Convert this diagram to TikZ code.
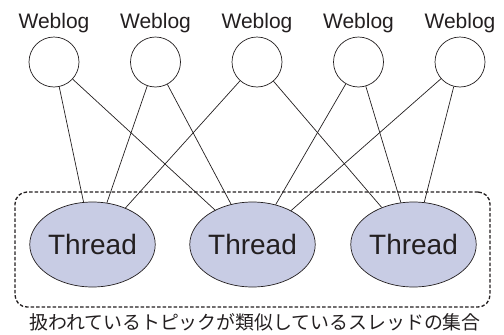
\documentclass[tikz,border=0pt]{standalone}
\usepackage{fontspec}
\setmainfont{Liberation Sans}
\newfontfamily\jpfont{Noto Sans CJK JP}
\usetikzlibrary{shapes.geometric,positioning}
\definecolor{threadfill}{RGB}{200,204,228}
\definecolor{ink}{RGB}{35,31,32}

\begin{document}
\begin{tikzpicture}[x=1pt, y=-1pt, every node/.style={align=center, text=ink},
  blog/.style={draw=ink, circle, line width=0.7pt, minimum size=50pt, inner sep=0pt},
  bloglabel/.style={font=\fontsize{21}{23}\selectfont, anchor=base, inner sep=0pt},
  thread/.style={draw=ink, ellipse, fill=threadfill, line width=0.7pt, minimum width=125pt, minimum height=85pt, inner sep=0pt, font=\fontsize{28}{30}\selectfont},
  groupbox/.style={draw=ink, line width=1.3pt, dash pattern=on 3.5pt off 2pt, rounded corners=12pt, minimum width=475pt, minimum height=115pt, inner sep=0pt},
  link/.style={draw=ink, line width=0.7pt}]
  \useasboundingbox (0,0) rectangle (504,335);

  % weblogs
  \node[blog] (w1) at (54,62) {};
  \node[blog] (w2) at (155.5,62) {};
  \node[blog] (w3) at (257,62) {};
  \node[blog] (w4) at (358.5,62) {};
  \node[blog] (w5) at (460,62) {};
  \node[bloglabel] (l1) at (54,28.5) {Weblog};
  \node[bloglabel] (l2) at (155.5,28.5) {Weblog};
  \node[bloglabel] (l3) at (257,28.5) {Weblog};
  \node[bloglabel] (l4) at (358.5,28.5) {Weblog};
  \node[bloglabel] (l5) at (460,28.5) {Weblog};

  % group of threads
  \node[groupbox] (grp) at (252.5,249.5) {};
  \node[thread] (t1) at (92.5,244.5) {Thread};
  \node[thread] (t2) at (252.5,244.5) {Thread};
  \node[thread] (t3) at (413.5,244.5) {Thread};
  \node[font=\jpfont\fontsize{18.9}{21}\selectfont, inner sep=0pt] (cap) at (255,322) {扱われているトピックが類似しているスレッドの集合};

  \draw[link] (w1) -- (t1);
  \draw[link] (w1) -- (t2);
  \draw[link] (w2) -- (t1);
  \draw[link] (w2) -- (t2);
  \draw[link] (w3) -- (t1);
  \draw[link] (w3) -- (t3);
  \draw[link] (w4) -- (t2);
  \draw[link] (w4) -- (t3);
  \draw[link] (w5) -- (t2);
  \draw[link] (w5) -- (t3);
\end{tikzpicture}
\end{document}
